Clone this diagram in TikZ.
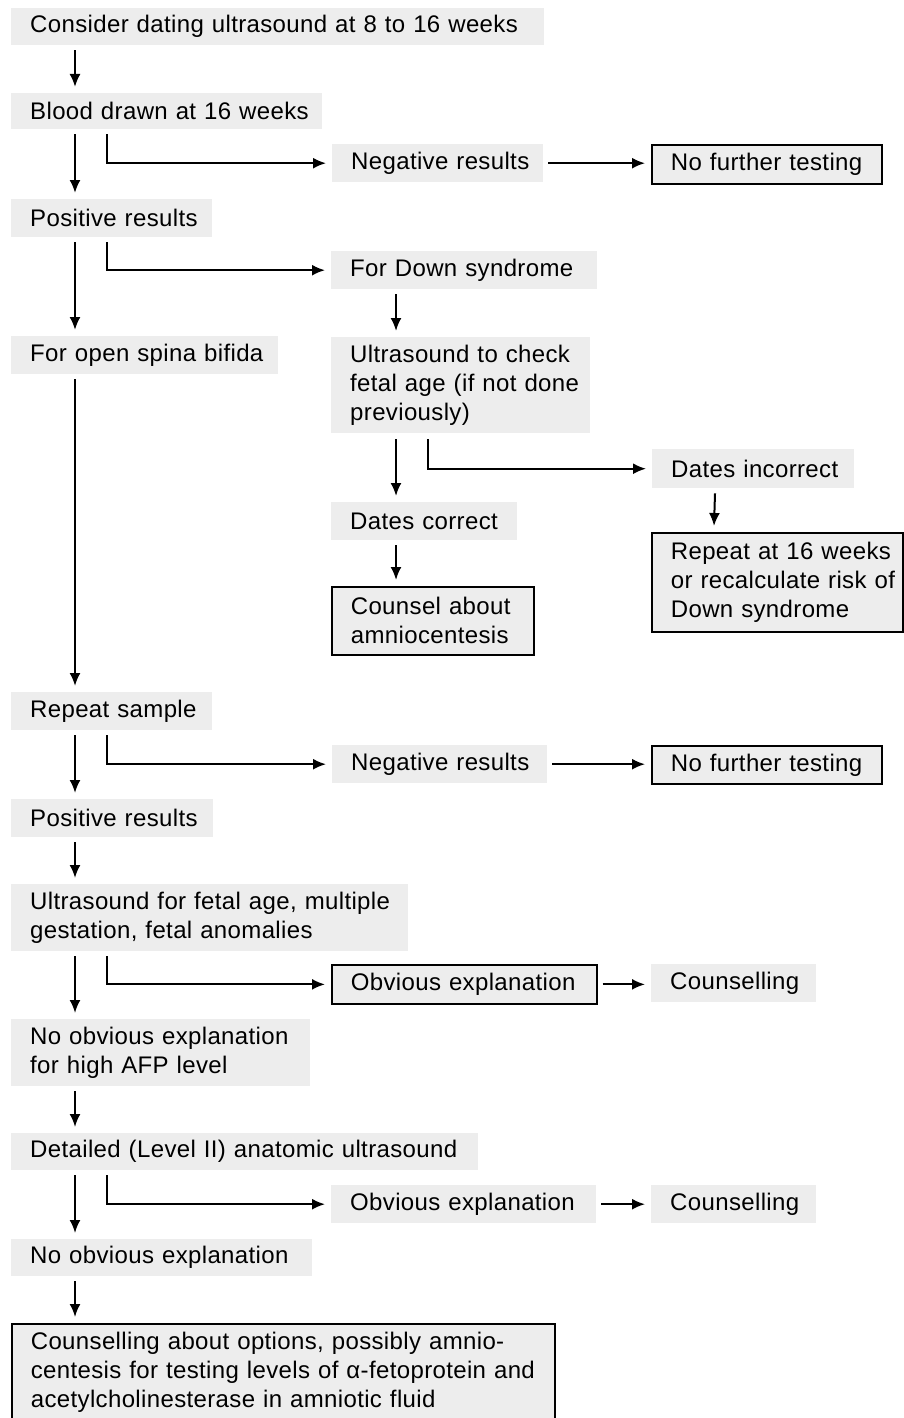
\documentclass[tikz,border=0pt]{standalone}
\usepackage{fontspec}
\setmainfont[LetterSpace=1.5]{Liberation Sans}
\usetikzlibrary{arrows.meta}
\setlength\parindent{0pt}
\definecolor{boxgray}{HTML}{EDEDED}
\tikzset{
  gbox/.style={fill=boxgray, inner xsep=0pt, inner ysep=0pt, anchor=north west,
    execute at begin node={\leftskip=19pt\rightskip=0pt plus 1fil\parfillskip=0pt plus 1fil}},
  bbox/.style={gbox, draw=black, line width=1.7pt},
  arr/.style={-{Latex[length=13pt,width=11pt]}, line width=2pt},
}
\begin{document}
\begin{tikzpicture}[x=1pt,y=-1pt, font=\fontsize{24}{29}\selectfont]
\useasboundingbox (0,0) rectangle (903,1418);
% boxes
\node[gbox, text width=533pt, minimum height=37pt] (n1) at (11,8) {Consider dating ultrasound at 8 to 16 weeks};
\node[gbox, text width=311pt, minimum height=36pt] (n2) at (11,93) {Blood drawn at 16 weeks};
\node[gbox, text width=211pt, minimum height=38pt] (neg1) at (332,144) {Negative results};
\node[bbox, text width=230pt, minimum height=39pt] (nft1) at (651,144) {No further testing};
\node[gbox, text width=201pt, minimum height=38pt] (pos1) at (11,199) {Positive results};
\node[gbox, text width=266pt, minimum height=38pt] (down) at (331,251) {For Down syndrome};
\node[gbox, text width=267pt, minimum height=38pt] (spina) at (11,336) {For open spina bifida};
\node[gbox, text width=259pt, minimum height=96pt] (us1) at (331,337) {Ultrasound to check\\fetal age (if not done\\previously)};
\node[gbox, text width=202pt, minimum height=39pt] (dinc) at (652,449) {Dates incorrect};
\node[gbox, text width=186pt, minimum height=38pt] (dcor) at (331,502) {Dates correct};
\node[bbox, text width=202pt, minimum height=68pt] (couns) at (331,586) {Counsel about\\amniocentesis};
\node[bbox, text width=251pt, minimum height=99pt] (rep16) at (651,532) {Repeat at 16 weeks\\or recalculate risk of\\Down syndrome};
\node[gbox, text width=201pt, minimum height=38pt] (rsamp) at (11,692) {Repeat sample};
\node[gbox, text width=215pt, minimum height=38pt] (neg2) at (332,745) {Negative results};
\node[bbox, text width=230pt, minimum height=38pt] (nft2) at (651,745) {No further testing};
\node[gbox, text width=202pt, minimum height=38pt] (pos2) at (11,799) {Positive results};
\node[gbox, text width=397pt, minimum height=67pt] (us2) at (11,884) {Ultrasound for fetal age, multiple\\gestation, fetal anomalies};
\node[bbox, text width=265pt, minimum height=39pt] (obv1) at (331,964) {Obvious explanation};
\node[gbox, text width=165pt, minimum height=38pt] (cl1) at (651,964) {Counselling};
\node[gbox, text width=299pt, minimum height=67pt] (noobv1) at (11,1019) {No obvious explanation\\for high AFP level};
\node[gbox, text width=467pt, minimum height=37pt] (lvl2) at (11,1133) {Detailed (Level II) anatomic ultrasound};
\node[gbox, text width=265pt, minimum height=38pt] (obv2) at (331,1185) {Obvious explanation};
\node[gbox, text width=165pt, minimum height=38pt] (cl2) at (651,1185) {Counselling};
\node[gbox, text width=301pt, minimum height=37pt] (noobv2) at (11,1239) {No obvious explanation};
\node[bbox, text width=543pt, minimum height=96pt] (final) at (11,1323) {Counselling about options, possibly amnio-\\centesis for testing levels of α-fetoprotein and\\acetylcholinesterase in amniotic fluid};
% main vertical arrows (x = 75)
\foreach \a/\b in {n1/n2, n2/pos1, pos1/spina, spina/rsamp, rsamp/pos2, pos2/us2, us2/noobv1, noobv1/lvl2, lvl2/noobv2, noobv2/final}
  \draw[arr] ([xshift=64pt,yshift=-5pt]\a.south west) -- ([xshift=64pt,yshift=6pt]\b.north west);
% branches (x = 107)
\foreach \a/\b in {n2/neg1, pos1/down, rsamp/neg2, us2/obv1, lvl2/obv2}
  \draw[arr, shorten >=6pt] ([xshift=96pt,yshift=-5pt]\a.south west) |- (\b.west);
% horizontal arrows
\foreach \a/\b in {neg1/nft1, neg2/nft2, obv1/cl1, obv2/cl2}
  \draw[arr, shorten <=5pt, shorten >=6pt] (\a.east) -- (\a.east -| \b.west);
% Down syndrome branch
\draw[arr] ([xshift=65pt,yshift=-5pt]down.south west) -- ([xshift=65pt,yshift=6pt]us1.north west);
\draw[arr] ([xshift=65pt,yshift=-6pt]us1.south west) -- ([xshift=65pt,yshift=6pt]dcor.north west);
\draw[arr, shorten >=6pt] ([xshift=97pt,yshift=-6pt]us1.south west) |- (dinc.west);
\draw[arr] ([xshift=65pt,yshift=-5pt]dcor.south west) -- ([xshift=65pt,yshift=6pt]couns.north west);
\draw[arr] ([xshift=63pt,yshift=-5pt]dinc.south west) -- ([xshift=63pt,yshift=6pt]rep16.north west);
\end{tikzpicture}
\end{document}
